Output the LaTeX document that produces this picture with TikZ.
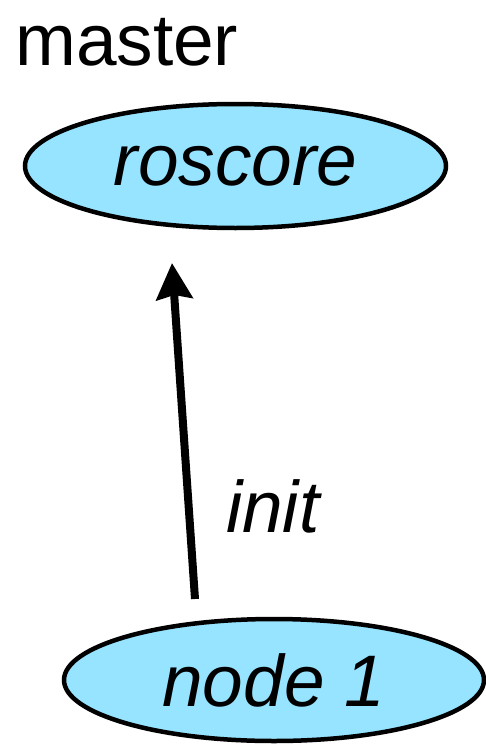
\documentclass[tikz,border=0pt]{standalone}
\usepackage{fontspec}
\setmainfont{Liberation Sans}
\usetikzlibrary{shapes.geometric,arrows.meta}
\definecolor{nodeblue}{RGB}{150,228,255}
\begin{document}
\begin{tikzpicture}[x=1pt,y=-1pt,
  big/.style={font=\fontsize{73}{80}\selectfont},
  rosnode/.style={ellipse,draw=black,line width=4.5pt,fill=nodeblue,inner sep=0pt,
    font=\fontsize{73}{80}\selectfont\itshape},
  msg/.style={line width=8pt,-{Stealth[length=36pt,width=36pt,inset=4pt]}}]
\useasboundingbox (0,0) rectangle (485,744);
\node[big,anchor=base west,inner sep=0pt] (master) at (15,65) {master};
\node[rosnode,minimum width=421pt,minimum height=124pt] (roscore) at (235.5,166) {roscore};
\node[rosnode,minimum width=420pt,minimum height=122pt] (node1) at (274,680) {node 1};
\coordinate (start) at (195,599);
\coordinate (tip) at (172,263);
\draw[msg] (start) -- (tip);
\node[font=\fontsize{73}{80}\selectfont\itshape,anchor=base west,inner sep=0pt] (init) at (226,532) {init};
\end{tikzpicture}
\end{document}
